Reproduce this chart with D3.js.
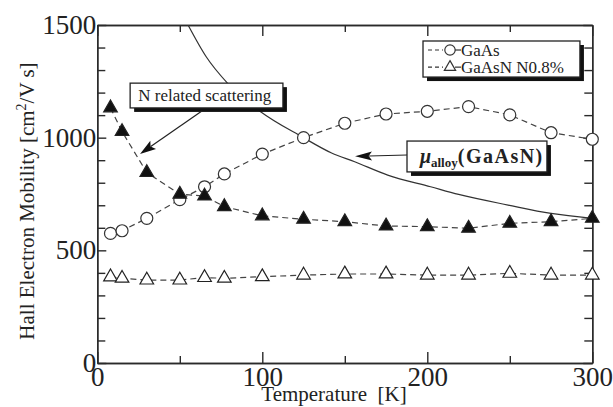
<!DOCTYPE html>
<html>
<head>
<meta charset="utf-8">
<script src="https://cdn.jsdelivr.net/npm/d3@7"></script>
</head>
<body style="margin:0; background:#fff">
<svg id="chart" width="613" height="407" style="display:block"></svg>
<script>
// Hall electron mobility vs temperature
const temps        = [8, 15, 30, 50, 65, 77, 100, 125, 150, 175, 200, 225, 250, 275, 300];
const gaasMu       = [575, 587, 642, 725, 782, 839, 927, 1000, 1064, 1105, 1117, 1138, 1101, 1022, 993];
const gaasnMu      = [382, 376, 368, 368, 379, 376, 383, 390, 395, 395, 390, 390, 398, 390, 390];
const scatterMu    = [1132, 1027, 845, 749, 741, 694, 653, 638, 627, 608, 605, 598, 620, 627, 642];
const alloyTemps   = [55, 66, 79, 99, 124, 142, 156, 176, 202, 219, 249, 275, 300];
const alloyMu      = [1500, 1359, 1241, 1115, 1004, 932, 893, 834, 782, 748, 701, 664, 642];
const xMajorTicks  = [0, 100, 200, 300];
const xMinorTicks  = [50, 150, 250];
const yMajorTicks  = [0, 500, 1000, 1500];
const yMinorTicks  = [100, 200, 300, 400, 600, 700, 800, 900, 1100, 1200, 1300, 1400];
const legendLabels = ["GaAs", "GaAsN N0.8%"];

const SERIF = '"Liberation Serif", serif';
const svg = d3.select("#chart");
const x = d3.scaleLinear().domain([0, 300]).range([97.3, 592.3]);
const y = d3.scaleLinear().domain([0, 1500]).range([363, 25]);
const ink = "#2a2a2a";

function label(sel) {
  return sel.attr("font-family", SERIF).attr("fill", "#222");
}

// Clip for plot area
svg.append("defs").append("clipPath").attr("id", "plot")
  .append("rect").attr("x", x(0)).attr("y", y(1500))
  .attr("width", x(300) - x(0)).attr("height", y(0) - y(1500));

// ---- axes ----
function styleAxis(g) {
  g.attr("font-family", SERIF);
  g.selectAll("path, line").attr("stroke", ink).attr("stroke-width", 1.4);
  g.selectAll("text").call(label);
}
const bottomMajor = svg.append("g").attr("transform", `translate(0,${y(0)})`)
  .call(d3.axisBottom(x).tickValues(xMajorTicks).tickFormat(d3.format("d"))
    .tickSizeInner(-11).tickSizeOuter(0).tickPadding(4));
bottomMajor.selectAll("text").attr("font-size", 27);
styleAxis(bottomMajor);
const bottomMinor = svg.append("g").attr("transform", `translate(0,${y(0)})`)
  .call(d3.axisBottom(x).tickValues(xMinorTicks).tickFormat("").tickSizeInner(-7).tickSizeOuter(0));
styleAxis(bottomMinor);

const topMajor = svg.append("g").attr("transform", `translate(0,${y(1500)})`)
  .call(d3.axisTop(x).tickValues(xMajorTicks).tickFormat("").tickSizeInner(-11).tickSizeOuter(0));
styleAxis(topMajor);
const topMinor = svg.append("g").attr("transform", `translate(0,${y(1500)})`)
  .call(d3.axisTop(x).tickValues(xMinorTicks).tickFormat("").tickSizeInner(-7).tickSizeOuter(0));
styleAxis(topMinor);

const leftMajor = svg.append("g").attr("transform", `translate(${x(0)},0)`)
  .call(d3.axisLeft(y).tickValues(yMajorTicks).tickFormat(d3.format("d"))
    .tickSizeInner(-9).tickSizeOuter(0).tickPadding(1));
leftMajor.selectAll("text").attr("font-size", 27);
styleAxis(leftMajor);
const leftMinor = svg.append("g").attr("transform", `translate(${x(0)},0)`)
  .call(d3.axisLeft(y).tickValues(yMinorTicks).tickFormat("").tickSizeInner(-8).tickSizeOuter(0));
styleAxis(leftMinor);

const rightMajor = svg.append("g").attr("transform", `translate(${x(300)},0)`)
  .call(d3.axisRight(y).tickValues(yMajorTicks).tickFormat("").tickSizeInner(-9).tickSizeOuter(0));
styleAxis(rightMajor);
const rightMinor = svg.append("g").attr("transform", `translate(${x(300)},0)`)
  .call(d3.axisRight(y).tickValues(yMinorTicks).tickFormat("").tickSizeInner(-8).tickSizeOuter(0));
styleAxis(rightMinor);

// Axis titles
const yTitle = svg.append("text").call(label)
  .attr("transform", `translate(34,${201}) rotate(-90)`)
  .attr("text-anchor", "middle").attr("font-size", 21);
yTitle.append("tspan").text("Hall Electron Mobility [cm");
yTitle.append("tspan").attr("dy", -8).attr("font-size", 14).text("2");
yTitle.append("tspan").attr("dy", 8).text("/V s]");
svg.append("text").call(label)
  .attr("x", 334).attr("y", 401).attr("text-anchor", "middle").attr("font-size", 21)
  .attr("xml:space", "preserve")
  .text("Temperature  [K]");

// ---- data ----
const plot = svg.append("g").attr("clip-path", "url(#plot)");

// alloy-scattering limited mobility (solid curve)
plot.append("path")
  .datum(alloyTemps.map((t, i) => [t, alloyMu[i]]))
  .attr("fill", "none").attr("stroke", "#333").attr("stroke-width", 1.2)
  .attr("d", d3.line().x(d => x(d[0])).y(d => y(d[1])).curve(d3.curveMonotoneX));

const dashed = d3.line().x(d => x(d[0])).y(d => y(d[1]));
const seriesList = [
  { vals: gaasMu, kind: "circle", fill: "#fff" },
  { vals: scatterMu, kind: "tri", fill: "#111" },
  { vals: gaasnMu, kind: "tri", fill: "#fff" }
];
seriesList.forEach(s => {
  plot.append("path")
    .datum(temps.map((t, i) => [t, s.vals[i]]))
    .attr("fill", "none").attr("stroke", "#444").attr("stroke-width", 1.2)
    .attr("stroke-dasharray", "6,4")
    .attr("d", dashed);
});
const triSym = d3.symbol(d3.symbolTriangle, 80);
seriesList.forEach(s => {
  const g = svg.append("g");
  if (s.kind === "circle") {
    g.selectAll("circle").data(temps).join("circle")
      .attr("cx", t => x(t)).attr("cy", (t, i) => y(s.vals[i])).attr("r", 6)
      .attr("fill", s.fill).attr("stroke", "#333").attr("stroke-width", 1.2);
  } else {
    g.selectAll("path").data(temps).join("path")
      .attr("transform", (t, i) => `translate(${x(t)},${y(s.vals[i])})`)
      .attr("d", triSym)
      .attr("fill", s.fill).attr("stroke", "#222").attr("stroke-width", 1.2);
  }
});

// ---- annotation boxes ----
function shadowBox(x0, y0, x1, y1) {
  const g = svg.append("g");
  g.append("rect").attr("x", x(x0) + 4).attr("y", y(y0) + 4)
    .attr("width", x(x1) - x(x0)).attr("height", y(y1) - y(y0)).attr("fill", "#111");
  g.append("rect").attr("x", x(x0)).attr("y", y(y0))
    .attr("width", x(x1) - x(x0)).attr("height", y(y1) - y(y0))
    .attr("fill", "#fff").attr("stroke", "#222").attr("stroke-width", 1.3);
  return g;
}
function arrow(t0, v0, t1, v1, len, half) {
  const ax = x(t0), ay = y(v0), bx = x(t1), by = y(v1);
  const dx = bx - ax, dy = by - ay, L = Math.hypot(dx, dy);
  const ux = dx / L, uy = dy / L, px = -uy, py = ux;
  const baseX = bx - ux * len, baseY = by - uy * len;
  svg.append("line").attr("x1", ax).attr("y1", ay).attr("x2", baseX + ux * 3).attr("y2", baseY + uy * 3)
    .attr("stroke", "#222").attr("stroke-width", 1.2);
  const notchX = bx - ux * len * 0.8, notchY = by - uy * len * 0.8;
  svg.append("path")
    .attr("d", `M${bx},${by}L${baseX + px * half},${baseY + py * half}L${notchX},${notchY}L${baseX - px * half},${baseY - py * half}Z`)
    .attr("fill", "#111");
}

// N-related scattering label
shadowBox(19.9, 1242, 112.5, 1132);
svg.append("text").call(label).attr("x", x(24.8)).attr("y", y(1161)).attr("font-size", 17)
  .text("N related scattering");
arrow(63.4, 1118, 25.9, 928, 16, 5);

// alloy mobility label
shadowBox(187.7, 985, 272.5, 848);
const mu = svg.append("text").call(label).attr("x", x(195.5)).attr("y", y(887)).attr("font-size", 20);
mu.append("tspan").attr("font-style", "italic").attr("font-weight", "bold").text("μ");
mu.append("tspan").attr("font-size", 13).attr("font-weight", "bold").attr("dy", 4).text("alloy");
mu.append("tspan").attr("font-weight", "bold").attr("dy", -4).attr("letter-spacing", 1.5).text("(GaAsN)");
arrow(187.7, 923, 156.2, 917, 17, 4.5);

// legend
shadowBox(197.4, 1429, 292.5, 1269);
const legendRows = [
  { kind: "circle", label: legendLabels[0], v: 1389 },
  { kind: "tri", label: legendLabels[1], v: 1313 }
];
legendRows.forEach(r => {
  const cy = y(r.v);
  const g = svg.append("g");
  g.append("line").attr("x1", 428).attr("x2", 443).attr("y1", cy).attr("y2", cy)
    .attr("stroke", "#333").attr("stroke-width", 1.2).attr("stroke-dasharray", "4,3");
  g.append("line").attr("x1", 455).attr("x2", 461).attr("y1", cy).attr("y2", cy)
    .attr("stroke", "#333").attr("stroke-width", 1.2);
  if (r.kind === "circle") {
    g.append("circle").attr("cx", 450).attr("cy", cy).attr("r", 5.2)
      .attr("fill", "#fff").attr("stroke", "#333").attr("stroke-width", 1.2);
  } else {
    g.append("path").attr("transform", `translate(450,${cy})`)
      .attr("d", d3.symbol(d3.symbolTriangle, 55)).attr("fill", "#fff")
      .attr("stroke", "#333").attr("stroke-width", 1.2);
  }
  g.append("text").call(label).attr("x", 461).attr("y", cy + 5.5).attr("font-size", 17)
    .text(r.label);
});
</script>
</body>
</html>
